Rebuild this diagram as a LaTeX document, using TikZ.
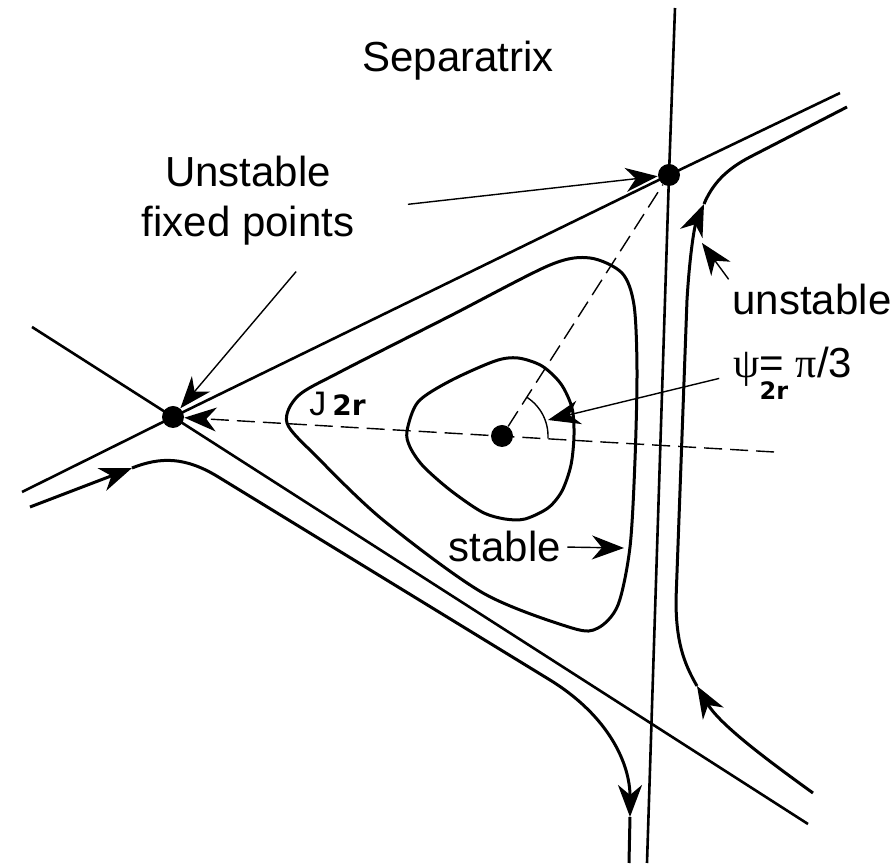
\documentclass[tikz,border=0pt]{standalone}
\usepackage{fontspec}
\setmainfont{Liberation Sans}
\newfontfamily\grkfont{Liberation Serif}
\newfontfamily\labfont{DejaVu Sans}
\usetikzlibrary{arrows.meta}

\begin{document}
\begin{tikzpicture}[x=0.5pt, y=-0.5pt,
    every node/.style={font=\fontsize{21}{25}\selectfont, inner sep=0pt},
    >={Stealth[length=16pt, width=12pt, inset=5pt]},
    fixpt/.style={circle, fill, minimum size=11pt},
    separ/.style={line width=1.3pt},
    orbit/.style={line width=1.5pt},
    lbl/.style={line width=0.7pt, ->, shorten <=3pt},
    dashln/.style={line width=0.7pt, dash pattern=on 9pt off 4pt}
]
\useasboundingbox (0,0) rectangle (896,865);
% Puncte fixe
\foreach \n/\p in {L/{173,417}, T/{669,175}, C/{502,436}}
    \node[fixpt] (\n) at (\p) {};
% Separatrice
\coordinate (A1) at (22,492); \coordinate (A2) at (840,93);
\coordinate (B1) at (32,327); \coordinate (B2) at (808,824);
\coordinate (V1) at (675,8);  \coordinate (V2) at (647,863);
\draw[separ] (A1) -- (L.center) -- (T.center) -- (A2);
\draw[separ] (B1) -- (L.center) -- (B2);
\draw[separ] (V1) -- (T.center) -- (V2);
% Linii punctate si unghiul
\coordinate (H) at (774,452);
\draw[dashln, ->] (H) -- (L);
\draw[dashln] (C) -- (T);
\draw[line width=0.7pt] plot[domain=-57:3, samples=30] ({502+46*cos(\x)}, {436+46*sin(\x)});
% Orbite inchise
\draw[orbit] plot[smooth cycle] coordinates {(407,431) (418,402) (450,381) (495,361) (518,358)
    (542,366) (561,384) (572,408) (574,435) (571,465) (562,491) (548,508) (525,519)
    (505,519) (482,512) (450,490) (423,466) (410,447)};
\draw[orbit] plot[smooth cycle] coordinates {(287,423) (298,396) (340,372) (450,316) (550,265)
    (590,258) (622,273) (634,305) (637,370) (635,460) (630,547) (618,605) (598,628)
    (572,628) (483,593) (383,520) (317,457)};
% Traiectorii deschise
\draw[orbit, ->] (30,507) -- (132,468);
\draw[orbit, ->] (132,468) .. controls (160,457) and (185,456) .. (220,478) -- (550,680)
    .. controls (610,717) and (630,765) .. (630,817);
\draw[orbit] (630,817) -- (629,863);
\draw[orbit, ->] (813,793) .. controls (770,762) and (720,725) .. (697,686);
\draw[orbit, ->] (697,686) .. controls (683,662) and (676,640) .. (676,600) -- (687,300)
    .. controls (690,250) and (695,225) .. (704,204);
\draw[orbit] (704,204) .. controls (712,185) and (725,170) .. (750,157) -- (847,107);
% Etichete
\node[anchor=base] (sepx) at (458,72) {Separatrix};
\node[anchor=base, align=center] (ufp) at (248,237) {Unstable\\fixed points};
\node[anchor=base] (unst) at (812,315) {unstable};
\node[anchor=base west] (psi) at (733,378) {{\grkfont ψ}\rlap{\raisebox{-11pt}{\labfont\bfseries\fontsize{12}{12}\selectfont 2r}}= {\grkfont π}/3};
\node[anchor=base] (stab) at (505,562) {stable};
\node[anchor=base west] (jtr) at (309,416) {\fontsize{17}{19}\selectfont J\hspace{3pt}{\labfont\bfseries\fontsize{14}{16}\selectfont 2r}};
% Sageti de la etichete
\coordinate (ufp1) at (300,267); \coordinate (ufp2) at (402,205);
\coordinate (psi1) at (725,377); \coordinate (psitip) at (548,420);
\coordinate (ustip) at (702,243); \coordinate (stabtip) at (624,548);
\draw[lbl] (ufp1) -- (L);
\draw[lbl] (ufp2) -- (T);
\draw[lbl] (unst.north west) -- (ustip);
\draw[lbl] (psi1) -- (psitip);
\draw[lbl] (stab.east) -- (stabtip);
\end{tikzpicture}
\end{document}
